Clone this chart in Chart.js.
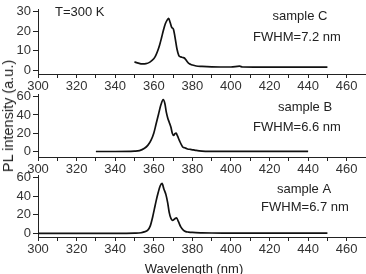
<!DOCTYPE html>
<html>
<head>
<meta charset="utf-8">
<script src="https://cdn.jsdelivr.net/npm/chart.js@4/dist/chart.umd.min.js"></script>
<style>
  body { margin: 0; background: #fff; }
  #wrap { position: relative; width: 366px; height: 274px; overflow: hidden; }
  canvas { position: absolute; left: 0; }
  #ytitle {
    position: absolute; left: 8px; top: 116px;
    transform: translate(-50%, -50%) rotate(-90deg);
    font: 14.5px "Liberation Sans", Arial, sans-serif; color: #222; white-space: nowrap;
  }
</style>
</head>
<body>
<div id="wrap">
  <canvas id="chartC" width="366" height="96" style="top:0px"></canvas>
  <canvas id="chartB" width="366" height="94" style="top:85px"></canvas>
  <canvas id="chartA" width="366" height="108" style="top:166px"></canvas>
  <div id="ytitle">PL intensity (a.u.)</div>
</div>
<script>
// spectra (wavelength nm / intensity a.u.)
const wlC  = [350, 352, 354, 356, 358, 360, 361, 362, 363, 364, 365, 366, 367, 367.7, 368.5, 369.3, 370.2, 371, 372, 373, 374, 375, 376, 377, 378, 379, 380, 382, 385, 390, 400, 404.5, 406, 420, 440, 450];
const intC = [4.2, 3.6, 3.2, 3.3, 4.1, 5.8, 7.4, 9.8, 12.8, 16.5, 20.5, 23.8, 25.8, 26.6, 24.5, 22, 21, 17, 11, 7.5, 6.8, 6.5, 6.1, 4.8, 3.6, 3.0, 2.6, 2.1, 1.9, 1.7, 1.6, 2.0, 1.6, 1.5, 1.5, 1.5];

const wlB  = [330, 340, 350, 352.6, 355.2, 357, 358.6, 360, 361.2, 362.5, 363.7, 364.9, 365.8, 366.5, 367.2, 368, 368.9, 369.6, 370.3, 371, 371.6, 372.3, 373.2, 374.9, 376, 377.5, 379, 380.5, 382, 385, 390, 400, 440];
const intB = [0, 0, 0.4, 1, 3.6, 7, 12.4, 20, 30, 41, 51, 56.7, 52, 43, 37, 32, 26.5, 20, 17.7, 19.5, 20, 17, 12.4, 5.3, 4, 2.8, 2.3, 1.8, 1.2, 0.5, 0.2, 0.1, 0.1];

const wlA  = [300, 340, 350, 353.4, 355, 356.9, 358.2, 359.4, 360.3, 361.2, 362.3, 363.3, 364.3, 365.2, 366.3, 367.2, 368, 368.9, 369.7, 370.8, 371.8, 372.8, 374, 375.3, 376.6, 378, 380, 385, 390, 400, 450];
const intA = [0, 0, 0.2, 0.6, 1.5, 3.4, 8, 17.3, 26, 34.7, 44, 51, 53.8, 48, 41.7, 33, 22.5, 16, 13.9, 15.5, 16.7, 12.5, 6.9, 3.5, 1.8, 1.3, 0.9, 0.5, 0.3, 0.1, 0.1];

// axes
const xTicks  = [300, 310, 320, 330, 340, 350, 360, 370, 380, 390, 400, 410, 420, 430, 440, 450, 460];
const xLabels = [300, 320, 340, 360, 380, 400, 420, 440, 460];
const yTicksC  = [0, 5, 10, 15, 20, 25, 30];
const yLabelsC = [0, 10, 20, 30];
const yTicks60  = [0, 10, 20, 30, 40, 50, 60];
const yLabels60 = [0, 20, 40, 60];

const sampleLabels = ['sample C', 'sample B', 'sample A'];
const fwhmLabels   = ['FWHM=7.2 nm', 'FWHM=6.6 nm', 'FWHM=6.7 nm'];

const FONT = '"Liberation Sans", Arial, sans-serif';

// draws the free text inside each panel
const notesPlugin = {
    id: 'notes',
    afterDraw(chart, args, opts) {
        const ctx = chart.ctx;
        ctx.save();
        ctx.font = '13px ' + FONT;
        ctx.fillStyle = '#222';
        ctx.textBaseline = 'middle';
        (opts.items || []).forEach(it => {
            ctx.textAlign = it.align || 'center';
            ctx.fillText(it.text, it.x, it.y);
        });
        ctx.restore();
    }
};

function makePanel(id, wl, inten, yMin, yMax, yTicks, yLabels, xHeight, notes) {
    const ctx = document.getElementById(id).getContext('2d');
    return new Chart(ctx, {
        type: 'line',
        data: {
            datasets: [{
                data: wl.map((x, i) => ({ x: x, y: inten[i] })),
                borderColor: '#111',
                borderWidth: 1.7,
                pointRadius: 0,
                cubicInterpolationMode: 'monotone',
                fill: false
            }]
        },
        options: {
            responsive: false,
            animation: false,
            devicePixelRatio: 1,
            layout: { padding: { top: 8, right: 0, bottom: 0, left: 0 } },
            plugins: {
                legend: { display: false },
                tooltip: { enabled: false },
                notes: { items: notes }
            },
            scales: {
                x: {
                    type: 'linear',
                    min: 300,
                    max: 470,
                    afterBuildTicks: s => { s.ticks = xTicks.map(v => ({ value: v })); },
                    afterFit: s => { s.height = xHeight; },
                    ticks: {
                        autoSkip: false,
                        maxRotation: 0,
                        padding: 1,
                        color: '#333',
                        font: { family: FONT, size: 13 },
                        callback: v => xLabels.includes(v) ? String(v) : ''
                    },
                    grid: { drawOnChartArea: false, tickLength: 4, tickColor: '#222', tickWidth: 1 },
                    border: { display: true, color: '#222', width: 1 }
                },
                y: {
                    min: yMin,
                    max: yMax,
                    afterBuildTicks: s => { s.ticks = yTicks.map(v => ({ value: v })); },
                    afterFit: s => { s.width = 38; },
                    ticks: {
                        padding: 2,
                        color: '#333',
                        font: { family: FONT, size: 13 },
                        callback: v => yLabels.includes(v) ? String(v) : ''
                    },
                    grid: { drawOnChartArea: false, tickLength: 5, tickColor: '#222', tickWidth: 1 },
                    border: { display: true, color: '#222', width: 1 }
                }
            }
        },
        plugins: [notesPlugin]
    });
}

makePanel('chartC', wlC, intC, -2, 31, yTicksC, yLabelsC, 22, [
    { text: 'T=300 K', x: 55, y: 12, align: 'left' },
    { text: sampleLabels[0], x: 300, y: 16 },
    { text: fwhmLabels[0], x: 297, y: 37 }
]);
makePanel('chartB', wlB, intB, -6, 62, yTicks60, yLabels60, 22, [
    { text: sampleLabels[1], x: 305, y: 22 },
    { text: fwhmLabels[1], x: 297, y: 42 }
]);
makePanel('chartA', wlA, intA, -4, 62, yTicks60, yLabels60, 37, [
    { text: sampleLabels[2], x: 304, y: 23 },
    { text: fwhmLabels[2], x: 305, y: 41 },
    { text: 'Wavelength (nm)', x: 194, y: 103 }
]);
</script>
</body>
</html>
